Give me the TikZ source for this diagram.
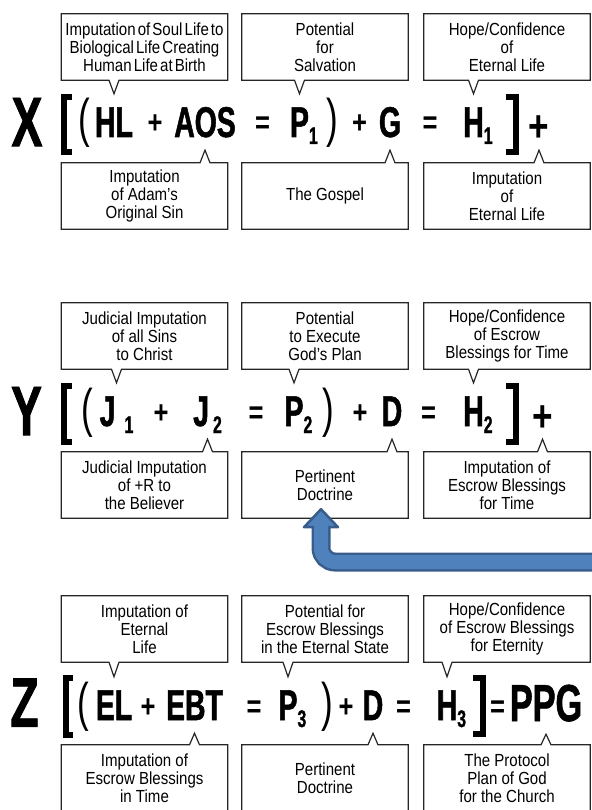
\documentclass[tikz,border=0pt]{standalone}
\usepackage{fontspec}
\setmainfont{Liberation Sans}[FakeStretch=0.86]
\newfontfamily\tightfont{Liberation Sans}[FakeStretch=0.86, WordSpace=0.5]
\newfontfamily\eqfont{Liberation Sans}[FakeStretch=0.66, BoldFeatures={FakeBold=1.2}]
\newfontfamily\opfont{Liberation Sans}[FakeStretch=0.8]
\usepackage{tikz}
\usetikzlibrary{calc}
\usepackage{xcolor}
\definecolor{arrowfill}{RGB}{79,129,189}
\definecolor{arrowedge}{RGB}{56,93,138}

\newcommand{\sbs}[1]{\raisebox{-7pt}{\fontsize{24}{24}\selectfont #1}}
\newcommand{\calldown}[2]{\draw[notebox] (#1.north west) -- (#1.north east) -- (#1.south east)
  -- ($(#1.south -| #2.north)+(5pt,0)$) -- (#2.north)
  -- ($(#1.south -| #2.north)+(-5pt,0)$) -- (#1.south west) -- cycle;}
\newcommand{\callup}[2]{\draw[notebox] (#1.south west) -- (#1.south east) -- (#1.north east)
  -- ($(#1.north -| #2.south)+(5pt,0)$) -- (#2.south)
  -- ($(#1.north -| #2.south)+(-5pt,0)$) -- (#1.north west) -- cycle;}

\tikzset{
  note/.style={minimum width=166pt, minimum height=66pt, inner sep=0pt, align=center,
    font=\fontsize{17.5}{18}\selectfont},
  tight/.style={font=\tightfont\fontsize{17.5}{18}\selectfont},
  term/.style={anchor=base, inner xsep=0pt, inner ysep=7pt, text height=36pt, text depth=6pt,
    font=\eqfont\bfseries\fontsize{43}{43}\selectfont},
  oper/.style={anchor=base, inner sep=0pt, font=\opfont\bfseries\fontsize{32}{32}\selectfont},
  bigplus/.style={term, text depth=1pt, font=\opfont\bfseries\fontsize{44}{44}\selectfont},
  paren/.style={anchor=base, inner sep=0pt, font=\eqfont\fontsize{53}{53}\selectfont},
  big/.style={inner sep=0pt, font=\eqfont\bfseries\fontsize{70}{70}\selectfont},
  brak/.style={line width=6pt, line join=miter},
  notebox/.style={line width=1.2pt, draw=black!85},
}

\begin{document}
\begin{tikzpicture}[x=1pt, y=-1pt]
	\useasboundingbox (0,0) rectangle (591,810);

	\path (144.5,47) node[note, tight] (xt1) {Imputation of Soul Life to\\Biological Life Creating\\Human Life at Birth}
		(325,47) node[note] (xt2) {Potential\\for\\Salvation}
		(507,47) node[note] (xt3) {Hope/Confidence\\of\\Eternal Life}
		(144.5,196) node[note] (xb1) {Imputation\\of Adam's\\Original Sin}
		(325,196) node[note] (xb2) {The Gospel}
		(507,196) node[note] (xb3) {Imputation\\of\\Eternal Life};
	\path (144.5,336) node[note] (yt1) {Judicial Imputation\\of all Sins\\to Christ}
		(325,336) node[note] (yt2) {Potential\\to Execute\\God's Plan}
		(507,336) node[note] (yt3) {Hope/Confidence\\of Escrow\\Blessings for Time}
		(144.5,485) node[note] (yb1) {Judicial Imputation\\of +R to\\the Believer}
		(325,485) node[note] (yb2) {Pertinent\\Doctrine}
		(507,485) node[note] (yb3) {Imputation of\\Escrow Blessings\\for Time};
	\path (144.5,629) node[note] (zt1) {Imputation of\\Eternal\\Life}
		(325,629) node[note] (zt2) {Potential for\\Escrow Blessings\\in the Eternal State}
		(507,629) node[note] (zt3) {Hope/Confidence\\of Escrow Blessings\\for Eternity}
		(144.5,778) node[note] (zb1) {Imputation of\\Escrow Blessings\\in Time}
		(325,778) node[note] (zb2) {Pertinent\\Doctrine}
		(507,778) node[note] (zb3) {The Protocol\\Plan of God\\for the Church};

	\path (27,122) node[big] (xname) {X}
		(84.5,137) node[paren] (xo1) {(}
		(114,137) node[term] (hl) {HL}
		(155,134) node[oper] (xo2) {+}
		(205,137) node[term] (aos) {AOS}
		(262.5,134) node[oper] (xo3) {=}
		(299.5,137) node[term] (p1) {P\rlap{\sbs{1}}}
		(332.5,137) node[paren] (xo4) {)}
		(359.5,134) node[oper] (xo5) {+}
		(390,137) node[term] (g) {G}
		(430,134) node[oper] (xo6) {=}
		(473.5,137) node[term] (h1) {H\rlap{\sbs{1}}}
		(539,142) node[bigplus] (plus1) {+};
	\path (26.5,411) node[big] (yname) {Y}
		(87,426) node[paren] (yo1) {(}
		(116.5,426) node[term] (j1) {J\hspace{9pt}\sbs{1}}
		(161,423) node[oper] (yo2) {+}
		(207.5,426) node[term] (j2) {J\hspace{4pt}\sbs{2}}
		(256,423) node[oper] (yo3) {=}
		(294,426) node[term] (p2) {P\rlap{\sbs{2}}}
		(328,426) node[paren] (yo4) {)}
		(360,423) node[oper] (yo5) {+}
		(392,426) node[term] (d2) {D}
		(428.5,423) node[oper] (yo6) {=}
		(473.5,426) node[term] (h2) {H\rlap{\sbs{2}}}
		(542.5,431) node[bigplus] (plus2) {+};
	\path (24.5,702.5) node[big] (zname) {Z}
		(83,720) node[paren] (zo1) {(}
		(114,720) node[term] (el) {EL}
		(148,717) node[oper] (zo2) {+}
		(194.5,720) node[term] (ebt) {EBT}
		(254,717) node[oper] (zo3) {=}
		(288,720) node[term] (p3) {P\rlap{\sbs{3}}}
		(327,720) node[paren] (zo4) {)}
		(346,717) node[oper] (zo5) {+}
		(373,720) node[term] (d3) {D}
		(403.5,717) node[oper] (zo6) {=}
		(447,720) node[term] (h3) {H\rlap{\sbs{3}}}
		(497.5,717) node[oper] (zo7) {=}
		(546,721) node[term, font=\eqfont\bfseries\fontsize{52}{52}\selectfont] (ppg) {PPG};

	\draw[brak] (72,97) -- (63.5,97) -- (63.5,152) -- (72,152);
	\draw[brak] (506,97) -- (516,97) -- (516,152) -- (506,152);
	\draw[brak] (72,386) -- (63.5,386) -- (63.5,442) -- (72,442);
	\draw[brak] (506,386) -- (516,386) -- (516,442) -- (506,442);
	\draw[brak] (73,678) -- (65.5,678) -- (65.5,735) -- (73,735);
	\draw[brak] (473,678) -- (483,678) -- (483,734) -- (473,734);

	\calldown{xt1}{hl} \calldown{xt2}{p1} \calldown{xt3}{h1}
	\callup{xb1}{aos} \callup{xb2}{g} \callup{xb3}{plus1}
	\calldown{yt1}{j1} \calldown{yt2}{p2} \calldown{yt3}{h2}
	\callup{yb1}{j2} \callup{yb2}{d2} \callup{yb3}{plus2}
	\calldown{zt1}{el} \calldown{zt2}{p3} \calldown{zt3}{h3}
	\callup{zb1}{ebt} \callup{zb2}{d3} \callup{zb3}{ppg}

	\coordinate (src) at (600,562);
	\coordinate (tip) at ([xshift=-4pt,yshift=9pt]yb2.south);
	\coordinate (neck) at ([yshift=-18pt]tip);
	\draw[line width=19pt, arrowedge, rounded corners=14pt] (src) -| (neck);
	\filldraw[fill=arrowfill, draw=arrowedge, line width=2.5pt, line join=round]
		([xshift=-17pt]neck) -- (tip) -- ([xshift=17pt]neck) -- cycle;
	\draw[line width=14pt, arrowfill, rounded corners=14pt] (src) -| ([yshift=2pt]neck);
\end{tikzpicture}
\end{document}
